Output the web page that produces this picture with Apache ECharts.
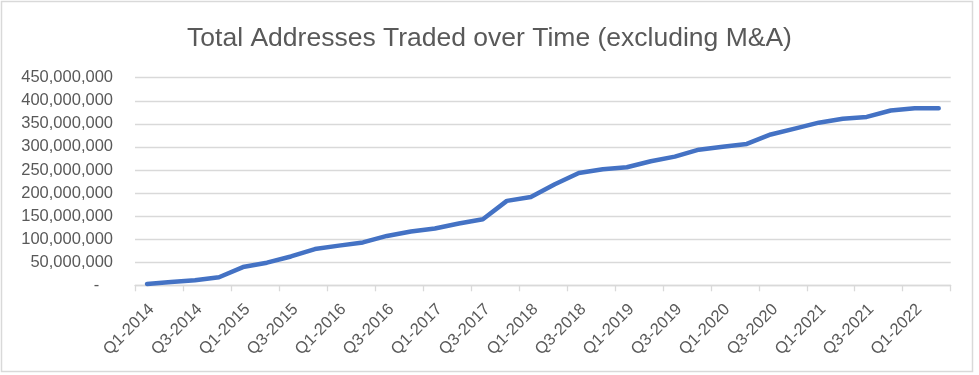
<!DOCTYPE html>
<html>
<head>
<meta charset="utf-8">
<script src="https://cdn.jsdelivr.net/npm/echarts@6/dist/echarts.min.js"></script>
<style>
html,body{margin:0;padding:0;background:#fff;}
#c{width:979px;height:375px;}
</style>
</head>
<body>
<div id="c"></div>
<script>
const categories = ["Q1-2014","Q2-2014","Q3-2014","Q4-2014","Q1-2015","Q2-2015","Q3-2015","Q4-2015",
"Q1-2016","Q2-2016","Q3-2016","Q4-2016","Q1-2017","Q2-2017","Q3-2017","Q4-2017",
"Q1-2018","Q2-2018","Q3-2018","Q4-2018","Q1-2019","Q2-2019","Q3-2019","Q4-2019",
"Q1-2020","Q2-2020","Q3-2020","Q4-2020","Q1-2021","Q2-2021","Q3-2021","Q4-2021",
"Q1-2022","Q2-2022"];
const addressesMillions = [3,7,11,17.5,39.5,49,62.5,78.5,86,93,107,116.5,123,134,143,183,
191.5,219,243.5,251.5,256,269,279,294,300.5,306.5,327,339.5,352.5,361,365,379,384,384];
const addresses = addressesMillions.map(v => v * 1000000);
const titleText = "Total Addresses Traded over Time (excluding M&A)";

const chart = echarts.init(document.getElementById('c'));
const font = "'Liberation Sans', Arial, sans-serif";
chart.setOption({
  animation: false,
  backgroundColor: '#fff',
  graphic: [{
    type: 'rect',
    shape: {x: 1.5, y: 1.5, width: 971, height: 370},
    style: {fill: 'none', stroke: '#d9d9d9', lineWidth: 1.5},
    silent: true
  }],
  title: {
    text: titleText,
    left: 'center',
    top: 20,
    textStyle: {fontFamily: font, fontSize: 26.5, fontWeight: 'normal', color: '#595959'}
  },
  grid: {left: 135, right: 28.3, top: 77.7, bottom: 89.7, containLabel: false},
  xAxis: {
    type: 'category',
    data: categories,
    boundaryGap: true,
    axisLine: {show: true, lineStyle: {color: '#d9d9d9', width: 1.3}},
    axisTick: {show: true, interval: 1, length: 6, lineStyle: {color: '#d9d9d9', width: 1.3}},
    axisLabel: {
      interval: 1, rotate: 45, margin: 17,
      formatter: v => '{a|' + v + '}',
      rich: {a: {color: '#595959', fontFamily: font, fontSize: 16.5, padding: [13, 0, 0, 0]}}
    }
  },
  yAxis: {
    type: 'value',
    min: 0, max: 450000000, interval: 50000000,
    axisLine: {show: false},
    axisTick: {show: false},
    splitLine: {lineStyle: {color: '#d9d9d9', width: 1.3}},
    axisLabel: {
      color: '#595959', fontFamily: font, fontSize: 16.5, margin: 22,
      formatter: v => v === 0 ? '-   ' : v.toLocaleString('en-US')
    }
  },
  series: [{
    type: 'line',
    data: addresses,
    symbol: 'none',
    lineStyle: {color: '#4472C4', width: 4.5, cap: 'round', join: 'round'},
    itemStyle: {color: '#4472C4'}
  }]
});
</script>
</body>
</html>
